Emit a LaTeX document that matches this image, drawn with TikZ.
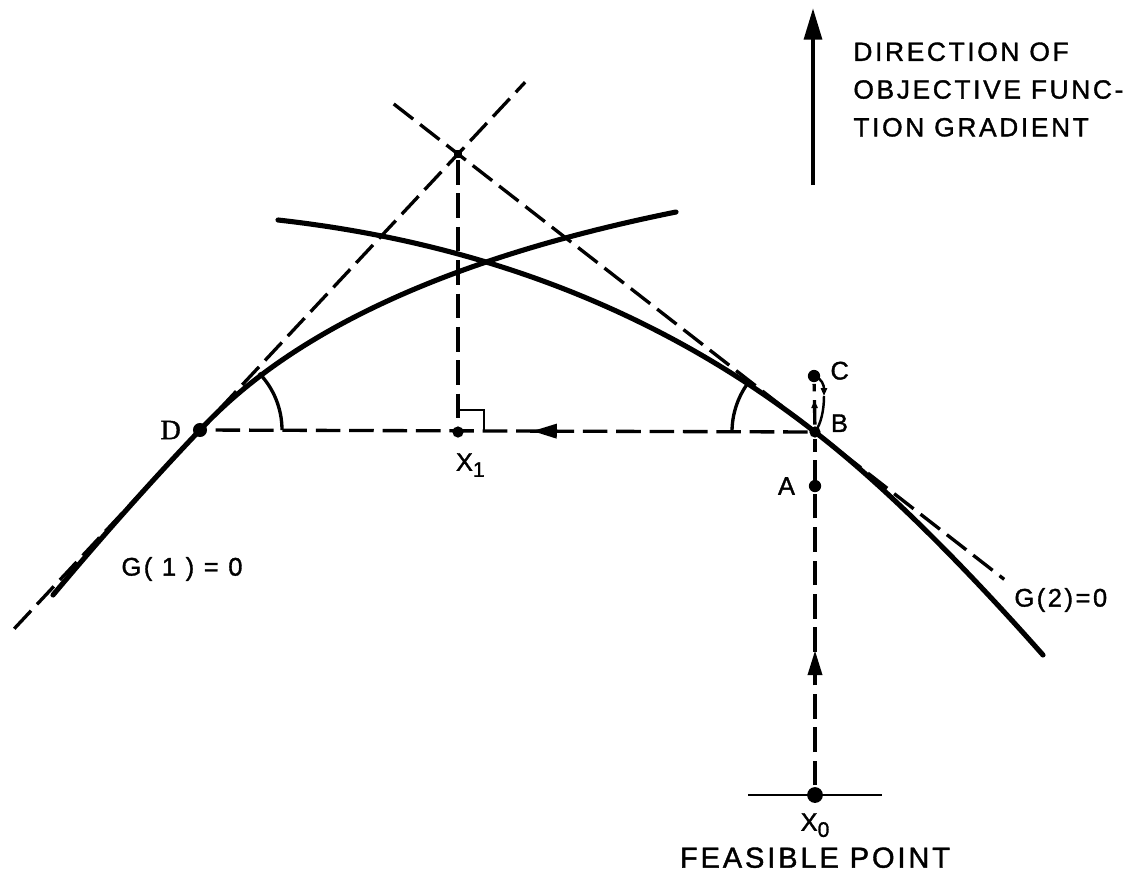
\documentclass[tikz,border=0pt]{standalone}
\usepackage{fontspec}
\newfontfamily\leroy{Liberation Sans}[LetterSpace=10, FakeBold=1.3]
\newfontfamily\romanD{Liberation Serif}[FakeBold=1.3]
\usetikzlibrary{arrows.meta, positioning, calc, decorations.markings}
\tikzset{
  every picture/.style={line width=1.9pt},
  ptdot/.style={circle, fill=black, inner sep=0pt, minimum size=#1},
  ptdot/.default=7pt,
  gcurve/.style={line width=2.9pt, line cap=round},
  dashline/.style={line width=1.9pt, dash pattern=on 14pt off 5pt},
  thin mark/.style={line width=1.4pt},
  lbl/.style={font=\leroy\fontsize{14.5}{16}\selectfont, inner sep=1pt},
  midarrow/.style={postaction={decorate, decoration={markings,
      mark=at position #1 with {\arrow{Triangle[length=14pt, width=8pt]}}}}},
  tinyarrow/.style={postaction={decorate, decoration={markings,
      mark=at position #1 with {\arrow{Triangle[length=4.5pt, width=3.5pt]}}}}},
}
\newcommand{\subdig}[1]{\raisebox{-0.45ex}{\fontsize{12}{13}\selectfont #1}}

\begin{document}
\begin{tikzpicture}[x=0.02cm, y=-0.02cm]
  \useasboundingbox (0,0) rectangle (1146,886);
  % points on the boundary and on the search line
  \node[ptdot=8pt] (D) at (200,430) {};
  \node[ptdot=6.4pt] (X1) at (458,432) {};
  \node[ptdot=6.4pt] (B) at (815,432) {};
  \node[ptdot] (A) at (815,486) {};
  \node[ptdot] (C) at (814,376) {};
  \node[ptdot=9pt] (X0) at (815,795) {};
  \node[rectangle, fill=black, inner sep=0pt, minimum size=5pt] (apex) at (458,154) {};
  % constraints G(1)=0 and G(2)=0
  \draw[gcurve] (53,595) .. controls (110,527) and (160,472) .. (D.center)
    .. controls (294,329) and (453,257) .. (676,212);
  \draw[gcurve] (278,220) .. controls (484,243) and (663,313) .. (B.center)
    .. controls (881,483) and (957,558) .. (1043,655);
  % tangents at D and B, meeting above X1
  \draw[dashline] ($(apex)!1.72!(D)$) -- ($(D)!1.26!(apex)$);
  \draw[dashline] ($(B)!1.18!(apex)$) -- ($(apex)!1.53!(B)$);
  \draw[dashline] (apex) -- (X1);
  \draw[thin mark] ($(X1)+(0,-22)$) -| ($(X1)+(26,0)$);
  % search moves
  \draw[dashline, midarrow=0.46] (B) -- (D);
  \draw[dashline, midarrow=0.39] (X0) -- (B);
  \draw[dashline, tinyarrow=0.6] (B) -- (C);
  \coordinate (cb) at (824,396);
  \draw[thin mark, -{Triangle[length=4.5pt, width=3.5pt]}] (C.center) .. controls (822,378) and (824,386) .. (cb);
  \draw[thin mark] (cb) .. controls (824,410) and (821,424) .. (B.center);
  \draw[thin mark] ($(X0)+(-67,0)$) -- ($(X0)+(67,0)$);
  % angles between constraint and search line
  \draw ($(D)+(82,0)$) arc[start angle=0, end angle=-44, radius=82];
  \draw ($(B)+(-83,0)$) arc[start angle=180, end angle=215, radius=83];
  % gradient direction
  \draw[line width=2.5pt, -{Triangle[length=18pt, width=10pt]}] (813,185) -- (813,8);
  \node[lbl, anchor=north west, align=left, font=\leroy\fontsize{15}{21.5}\selectfont] (grad) at (850,39)
    {DIRECTION OF\\OBJECTIVE FUNC-\\TION GRADIENT};
  % labels
  \node[lbl, font=\romanD\fontsize{16}{18}\selectfont, left=4pt of D] (dlbl) {D};
  \node[lbl, below=6pt of X1, xshift=7pt] (x1lbl) {X\subdig{1}};
  \node[lbl, right=3pt of B, yshift=5pt] (blbl) {B};
  \node[lbl, left=5pt of A] (albl) {A};
  \node[lbl, right=3pt of C, yshift=3pt] (clbl) {C};
  \node[lbl, below=3pt of X0] (x0lbl) {X\subdig{0}};
  \node[lbl, font=\leroy\fontsize{16.5}{18}\selectfont, below=2pt of x0lbl] (feas) {FEASIBLE POINT};
  \node[lbl] (g1lbl) at (182,569) {G( 1 ) = 0};
  \node[lbl, anchor=west] (g2lbl) at (1011,600) {G(2)=0};
\end{tikzpicture}
\end{document}
